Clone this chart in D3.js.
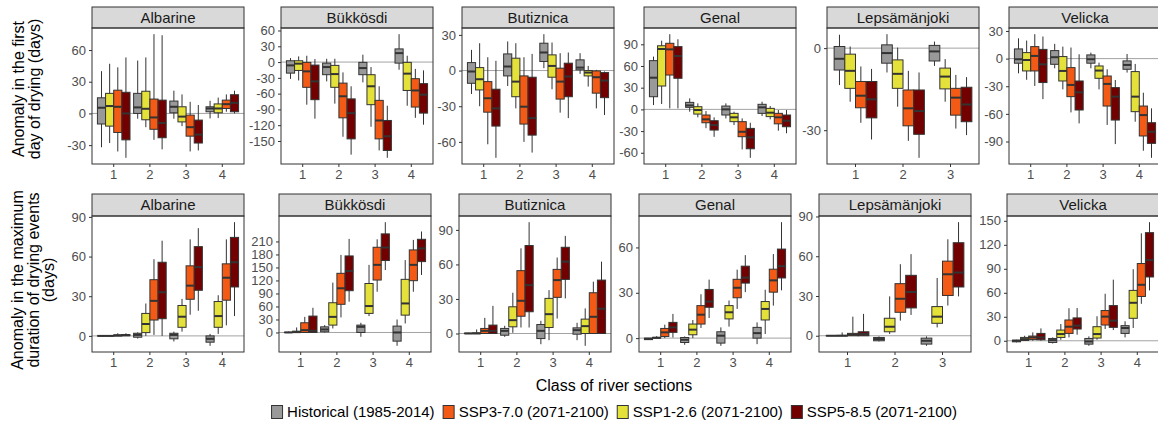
<!DOCTYPE html>
<html>
<head>
<meta charset="utf-8">
<script src="https://cdn.jsdelivr.net/npm/d3@7"></script>
<style>
  body { margin: 0; background: #fff; }
  svg { display: block; font-family: "Liberation Sans", Arial, Helvetica, sans-serif; }
</style>
</head>
<body>
<svg width="1158" height="421"></svg>
<script>
// Rivers, classes and scenarios
const rivers = ["Albarine", "Bükkösdi", "Butiznica", "Genal", "Lepsämänjoki", "Velicka"];
const riverClasses = [
    ["1", "2", "3", "4"], ["1", "2", "3", "4"], ["1", "2", "3", "4"],
    ["1", "2", "3", "4"], ["1", "2", "3"], ["1", "2", "3", "4"]
];
// order of the boxes inside a class
const scenarios = ["Historical (1985-2014)", "SSP1-2.6 (2071-2100)", "SSP3-7.0 (2071-2100)", "SSP5-8.5 (2071-2100)"];
// order of the legend
const legendOrder = ["Historical (1985-2014)", "SSP3-7.0 (2071-2100)", "SSP1-2.6 (2071-2100)", "SSP5-8.5 (2071-2100)"];
const scenarioColours = ["#999999", "#E3E13A", "#F25A15", "#730000"];

// Tick labels of each panel
const firstDayTicks = [
    [-30, 0, 30, 60], [-150, -120, -90, -60, -30, 0, 30, 60], [-60, -30, 0, 30],
    [-60, -30, 0, 30, 60, 90], [-30, 0], [-90, -60, -30, 0, 30]
];
const maxDurationTicks = [
    [0, 30, 60, 90], [0, 30, 60, 90, 120, 150, 180, 210], [0, 30, 60, 90],
    [0, 30, 60], [0, 30, 60, 90], [0, 30, 60, 90, 120, 150]
];

// Box values: per class, one [min, q1, median, q3, max] per scenario
// Anomaly in the first day of drying (days)
const firstDayAlbarine = [
    [[-32, -10, 5.4, 14.8, 40], [-28, -12, 7, 19, 47], [-36, -18, 6.3, 22, 43.6], [-42, -25, 0, 20, 53]],
    [[-5, 0, 5.7, 19, 50], [-13, -6, 4.4, 21, 53], [-25, -15, -3.8, 13.6, 75], [-34, -23, -9, 12.6, 74]],
    [[-5, 0.6, 6.3, 11.7, 21.5], [-12, -8, -3, 6.3, 18], [-36, -21.5, -13, -1.6, 11], [-35, -28, -20, -6.3, 8]],
    [[-4.7, 1.6, 4.7, 6.3, 12], [-4.4, 0.6, 4.7, 9, 15], [1.6, 4.7, 8.8, 12.6, 18], [0, 1.6, 10, 17.7, 21.5]]
];
const firstDayBukkosdi = [
    [[-32, -21, -6.3, 2.5, 7.6], [-35, -16, -3, 2.5, 10.8], [-81, -48, -17.7, -0.6, 12], [-107.6, -71.5, -36.7, -5.7, 5.7]],
    [[-36.7, -24, -9.5, -2, 6.3], [-79, -48, -22.8, -6.3, 6.3], [-142, -106, -65, -40, -19.6], [-176, -146, -97, -70, -46]],
    [[-38.6, -24, -11.4, -0.6, 14], [-123, -81, -46, -24, -9.5], [-168, -146, -111, -72.8, -46], [-182, -168, -141, -111, -83]],
    [[-14.6, -2, 17, 25, 53], [-83, -54, -22, -0.6, 12], [-106, -85.5, -54, -31.6, -13], [-119, -97, -62, -41, -15.8]]
];
const firstDayButiznica = [
    [[-19.7, -10.7, -0.8, 6.7, 17.4], [-30, -16.3, -7.3, 2.5, 23], [-62, -35, -23.3, -9.3, 11.2], [-73.4, -46.7, -31.8, -15.7, 8.2]],
    [[-13, -4.5, 3.4, 14, 24.5], [-31.8, -22, -9.3, 10.4, 23], [-60, -45, -30.4, -4.5, 11.2], [-69, -54.3, -40, -5.6, 14]],
    [[2, 7.6, 15.2, 23, 30.6], [-15.7, -5.6, 3.9, 13.2, 23.6], [-35.4, -24, -9.3, 2, 14.6], [-40, -22, -5, 6.2, 15.2]],
    [[-2.8, 0.6, 2.5, 9, 14.6], [-13.5, -4.5, -1.7, 0, 3.9], [-31.8, -19, -5.6, -0.3, 0.6], [-37.4, -22.8, -8.4, -1.7, -0.8]]
];
const firstDayGenal = [
    [[6, 17.5, 43.8, 67.4, 73], [7.4, 32.3, 83.5, 88, 95], [1.4, 47.5, 83, 91.4, 104], [1.4, 43, 73.8, 86.8, 97]],
    [[-3.2, 2.8, 5.5, 9.7, 15.2], [-11, -6.5, -0.9, 3.7, 8.3], [-26, -18.5, -13.8, -7.8, -2.3], [-38, -28.6, -21.7, -15.7, -11]],
    [[-12.5, -7.8, 0, 4.6, 8.3], [-21.7, -17, -11, -5.5, -3.2], [-55.4, -37.8, -31, -17, -12.5], [-67, -54.5, -38.8, -26.3, -18.5]],
    [[-9.2, -5.5, 2.8, 7, 10.6], [-13.8, -10, -4.6, 1.4, 4.6], [-29.5, -20, -11, -5.5, -0.9], [-33, -24, -15.7, -7.8, -0.9]]
];
const firstDayLepsamanjoki = [
    [[-13.5, -8, -3.9, 0.6, 4.9], [-19.6, -14.7, -8.3, -2.2, 0.6], [-27.3, -21.8, -17.4, -12.2, -6.7], [-33.4, -25.5, -18.7, -12.2, -7.6]],
    [[-8.9, -5.5, -1.8, 1.2, 5.1], [-21.4, -14.7, -9.4, -4.3, 0.2], [-33.9, -28.4, -22, -15.3, -8.3], [-40.1, -31.5, -23, -15.3, -8.9]],
    [[-6.5, -4.7, -1.2, 1, 2.4], [-19.6, -14.9, -10.4, -7.3, -4], [-29.4, -24.5, -18.1, -14.7, -9.8], [-31.8, -26.9, -20.6, -14.3, -10.6]]
];
const firstDayVelicka = [
    [[-16, -5, -0.7, 10.5, 22], [-23, -13.4, -1.5, 6.5, 19.6], [-29.7, -13.4, 2.9, 13, 26.5], [-44, -26, -6.2, 10, 24]],
    [[-10.5, -6.2, 1.5, 8.7, 16], [-33.4, -24.3, -13.4, 2.2, 13], [-58.4, -41.3, -28.6, -9.8, 12], [-70.3, -55.8, -36.6, -24.3, 4.7]],
    [[-10.5, -5, -0.7, 4, 6.5], [-33.4, -21.4, -13, -8, -4.4], [-72, -51.5, -27.5, -18.9, -11.6], [-92.8, -66.7, -41.3, -31.5, -23.2]],
    [[-15.2, -11.6, -6.9, -2.5, 5], [-68.5, -57.6, -41.3, -14.1, -5.8], [-100, -84, -61.3, -51.5, -37], [-107.7, -92, -79.4, -69.6, -54]]
];

// Anomaly in the maximum duration of drying events (days)
const maxDurationAlbarine = [
    [[0, 0, 0, 0, 0], [0, 0, 0, 0.3, 0.5], [0, 0, 0.3, 0.8, 2], [0, 0.2, 0.5, 1, 2]],
    [[-2, -1, 0.75, 2, 2.7], [0, 2.5, 9, 17, 24.5], [0.75, 12, 26.5, 42.5, 58], [0, 13, 33, 55.7, 72]],
    [[-4.2, -2.2, 0.75, 2, 3.2], [3.2, 6.5, 14.5, 23, 28], [16, 27.7, 38, 53, 73], [19, 34.5, 52, 67.5, 81.5]],
    [[-7.5, -4.75, -2.2, 0, 1.5], [1.5, 6.5, 15, 26, 30.75], [8, 27, 44, 54.5, 73], [15, 37, 55.7, 74.5, 86]]
];
const maxDurationBukkosdi = [
    [[0, 0, 0, 0.5, 2], [0, 0, 0.8, 3, 11.6], [0, 0, 5.4, 22.4, 36], [0, 0, 3.9, 37.8, 57]],
    [[0, 1.5, 7, 13, 17], [9.3, 17, 36, 68.6, 115], [34.7, 65, 102, 136.5, 179], [71, 96.4, 142, 176.6, 216]],
    [[-10, 0, 13, 17, 22.4], [37.8, 44, 61, 113, 156], [94, 121, 156, 196.6, 215], [144, 166, 196, 227.5, 254.5]],
    [[-30.8, -20, 0, 14.7, 30], [20.8, 40, 67, 122.6, 167], [94, 119.5, 156, 190.5, 213.6], [132.6, 163.5, 194, 215, 233]]
];
const maxDurationButiznica = [
    [[0, 0, 0, 0.3, 0.6], [0, 0, 0, 0.6, 3.5], [0, 0, 2.3, 4.4, 13.6], [0, 0, 2.3, 7.3, 24]],
    [[-2.9, -1.5, 2.3, 4.4, 6.7], [0.6, 5.8, 11.6, 23.2, 35.4], [5.2, 15, 28.4, 54.6, 74], [5.2, 18.9, 42, 76.4, 96.7]],
    [[-9.3, -4.4, 2.3, 7.8, 11], [-5.8, 5.2, 16.8, 30.5, 37.7], [13, 31.4, 46.4, 55.7, 66], [30.5, 47, 62.4, 74.9, 84.8]],
    [[-5.8, -0.6, 2.9, 4.9, 9.3], [-10.7, 0, 6.4, 12.5, 21.8], [0, 0, 14.5, 35.4, 45], [0, 0, 21.5, 46.4, 62.4]]
];
const maxDurationGenal = [
    [[-1.2, -1, -0.5, 0, 0], [0, 0, 0.2, 0.5, 1.3], [0, 1.1, 3.8, 6.4, 8.9], [0.4, 3.8, 7.1, 10.4, 16]],
    [[-4.4, -2.9, -1.1, 0.4, 1.1], [0, 2.2, 5.6, 9.3, 12], [6.7, 9.3, 15.5, 21.5, 29], [13.3, 20.4, 24.2, 32.2, 38.7]],
    [[-5.1, -3.3, 1.6, 4.2, 7.1], [7.6, 12.7, 17.1, 21.5, 24.9], [19.3, 26.7, 33.3, 38.9, 45.3], [30.4, 36.4, 40, 47.6, 54.9]],
    [[-4, 0, 3.3, 7.1, 10.4], [2.7, 12, 19.3, 24.2, 32], [21.5, 30.4, 38.2, 45.6, 55.6], [31.6, 39.8, 47.6, 58.9, 76.7]]
];
const maxDurationLepsamanjoki = [
    [[0, 0, 0, 0, 0], [0, 0, 0, 0.3, 2.5], [0, 0, 0.8, 1.8, 14.4], [0, 0, 1.3, 3, 16.5]],
    [[-4.3, -3.8, -2.5, -1.3, -0.5], [1.3, 3, 6.8, 13.2, 29.7], [11.4, 17.7, 27.9, 39.3, 54], [15.7, 21, 33, 45.6, 61.6]],
    [[-7.6, -6.3, -3.8, -1.8, -0.5], [6.3, 9.4, 14.4, 22, 43.6], [22.8, 30.4, 46.4, 56.3, 72.8], [29.7, 36.8, 47.7, 70.2, 85.7]]
];
const maxDurationVelicka = [
    [[-2, -1.3, 0, 0.8, 1.3], [0, 0.4, 2.1, 4.2, 6.3], [0, 1.7, 4.2, 5.9, 10.5], [0, 1.3, 4.2, 9.2, 15.5]],
    [[-3.4, -2.1, 0.8, 2.9, 4.2], [1.3, 4.2, 8.4, 13.4, 21], [4.2, 9.2, 17.6, 26, 40.7], [7.6, 14.7, 18.9, 28.6, 41]],
    [[-6.3, -4.2, -0.8, 2.9, 5.5], [1.3, 3.4, 8.4, 17.6, 30.7], [14.7, 19.7, 30.2, 37.8, 58.8], [13.4, 16.8, 25.2, 44, 76.4]],
    [[4.2, 9.2, 16, 18.9, 24.4], [16, 28.1, 47.5, 63, 89.5], [46.2, 55.4, 70, 96.6, 134.4], [63, 79.8, 100.8, 135.2, 148.3]]
];

const firstDay = [firstDayAlbarine, firstDayBukkosdi, firstDayButiznica, firstDayGenal, firstDayLepsamanjoki, firstDayVelicka];
const maxDuration = [maxDurationAlbarine, maxDurationBukkosdi, maxDurationButiznica, maxDurationGenal, maxDurationLepsamanjoki, maxDurationVelicka];

// Mise en page
const svg = d3.select("svg");
const panelWidth = 152;
const dark = "#333333";

const rowLayouts = [
    { data: firstDay, ticks: firstDayTicks, lefts: [92, 281, 462, 644, 827, 1009], stripTop: 7, top: 28, bottom: 164 },
    { data: maxDuration, ticks: maxDurationTicks, lefts: [92, 279, 459, 639, 819, 1007], stripTop: 194, top: 216, bottom: 352 }
];

function drawPanel(row, k) {
    const left = row.lefts[k];
    const right = left + panelWidth;
    const classes = riverClasses[k];
    const boxes = row.data[k];
    const g = svg.append("g");

    // discrete x, like ggplot (0.6 expansion, dodge width 0.9)
    const x = d3.scaleBand()
        .domain(classes)
        .range([left, right])
        .paddingInner(0.1)
        .paddingOuter(0.15);
    const xs = d3.scaleBand()
        .domain(d3.range(scenarios.length))
        .range([0, x.bandwidth()]);

    // free y scale with 5% expansion
    const [lo, hi] = d3.extent(boxes.flat(2));
    const pad = (hi - lo) * 0.05;
    const y = d3.scaleLinear()
        .domain([lo - pad, hi + pad])
        .range([row.bottom, row.top]);

    // strip
    g.append("rect")
        .attr("x", left).attr("y", row.stripTop)
        .attr("width", panelWidth).attr("height", row.top - row.stripTop)
        .attr("fill", "#d9d9d9").attr("stroke", dark);
    g.append("text")
        .attr("x", (left + right) / 2)
        .attr("y", (row.stripTop + row.top) / 2)
        .attr("dy", "0.35em")
        .attr("text-anchor", "middle")
        .style("font-size", "15px")
        .attr("fill", "#1a1a1a")
        .text(rivers[k]);

    // ligne zéro
    g.append("line")
        .attr("x1", left).attr("x2", right)
        .attr("y1", y(0)).attr("y2", y(0))
        .attr("stroke", "#a3a3a3");

    const items = [];
    classes.forEach((c, i) => boxes[i].forEach((b, j) => items.push({ c, j, b })));
    const cx = d => x(d.c) + xs(d.j) + xs.bandwidth() / 2;

    const boxG = g.selectAll(".box").data(items).enter().append("g").attr("class", "box");

    boxG.append("line")
        .attr("x1", cx).attr("x2", cx)
        .attr("y1", d => y(d.b[0])).attr("y2", d => y(d.b[4]))
        .attr("stroke", dark);

    boxG.append("rect")
        .attr("x", d => x(d.c) + xs(d.j))
        .attr("width", xs.bandwidth())
        .attr("y", d => y(d.b[3]))
        .attr("height", d => Math.max(0.01, y(d.b[1]) - y(d.b[3])))
        .attr("fill", d => scenarioColours[d.j])
        .attr("stroke", dark);

    boxG.append("line")
        .attr("x1", d => x(d.c) + xs(d.j)).attr("x2", d => x(d.c) + xs(d.j) + xs.bandwidth())
        .attr("y1", d => y(d.b[2])).attr("y2", d => y(d.b[2]))
        .attr("stroke", dark)
        .attr("stroke-width", 2);

    // axes
    g.append("g")
        .attr("transform", `translate(${left},0)`)
        .call(d3.axisLeft(y).tickValues(row.ticks[k]).tickSize(3).tickSizeOuter(0).tickFormat(d => String(d)))
        .call(a => a.select(".domain").remove())
        .call(a => a.selectAll("line").attr("stroke", dark))
        .call(a => a.selectAll("text").attr("fill", "#4d4d4d").style("font-size", "13px"))
        .attr("font-family", null);

    g.append("g")
        .attr("transform", `translate(0,${row.bottom})`)
        .call(d3.axisBottom(x).tickSize(3).tickSizeOuter(0))
        .call(a => a.select(".domain").remove())
        .call(a => a.selectAll("line").attr("stroke", dark))
        .call(a => a.selectAll("text").attr("fill", "#4d4d4d").style("font-size", "13px"))
        .attr("font-family", null);

    // cadre
    g.append("rect")
        .attr("x", left).attr("y", row.top)
        .attr("width", panelWidth).attr("height", row.bottom - row.top)
        .attr("fill", "none").attr("stroke", dark);
}

rowLayouts.forEach(row => rivers.forEach((r, k) => drawPanel(row, k)));

// Titres des axes
function yTitle(lines, centre, baselines) {
    const t = svg.append("text")
        .attr("transform", "rotate(-90)")
        .attr("text-anchor", "middle")
        .style("font-size", "16px")
        .attr("fill", "#000");
    lines.forEach((l, i) => t.append("tspan").attr("x", -centre).attr("y", baselines[i]).text(l));
}
yTitle(["Anomaly in the first", "day of drying (days)"], 89, [24, 39.5]);
yTitle(["Anomaly in the maximum", "duration of drying events", "(days)"], 280, [23, 38.5, 54]);

svg.append("text")
    .attr("x", 614).attr("y", 391)
    .attr("text-anchor", "middle")
    .style("font-size", "16px")
    .text("Class of river sections");

// Légende
const legend = svg.append("g");
let lx = 0;
legendOrder.forEach(name => {
    const i = scenarios.indexOf(name);
    const item = legend.append("g").attr("transform", `translate(${lx},0)`);
    item.append("rect")
        .attr("x", 0.5).attr("y", 405.5)
        .attr("width", 11).attr("height", 13)
        .attr("fill", scenarioColours[i]).attr("stroke", dark);
    const t = item.append("text")
        .attr("x", 16).attr("y", 417)
        .style("font-size", "15px")
        .text(name);
    lx += 16 + t.node().getComputedTextLength() + 8;
});
legend.attr("transform", `translate(${614 - (lx - 8) / 2},0)`);
</script>
</body>
</html>
